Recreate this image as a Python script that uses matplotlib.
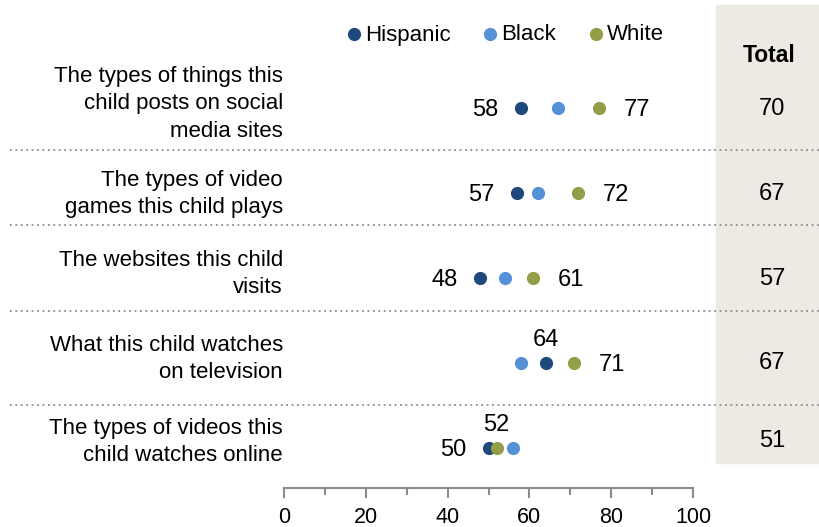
import matplotlib
matplotlib.use("Agg")
import matplotlib.pyplot as plt

categories = [
    "The types of things this\nchild posts on social\nmedia sites",
    "The types of video\ngames this child plays",
    "The websites this child\nvisits",
    "What this child watches\non television",
    "The types of videos this\nchild watches online",
]
hispanic = [58, 57, 48, 64, 50]
black = [67, 62, 54, 58, 56]
white = [77, 72, 61, 71, 52]
total = [70, 67, 57, 67, 51]
xticks = [0, 20, 40, 60, 80, 100]

C_HISP = "#1f497d"
C_BLACK = "#5591d6"
C_WHITE = "#949d48"
BEIGE = "#edeae3"
TXT = "#000000"

plt.rcParams['font.family'] = ['Liberation Sans', 'DejaVu Sans']

W, H = 819, 527
fig = plt.figure(figsize=(W / 100, H / 100), dpi=100)

# axes: x 0 at px 284, 100 at px 693; top at px 0, bottom spine at px 488
x0, x1 = 284, 693
ytop, ybot = 0, 488
ax = fig.add_axes([x0 / W, 1 - ybot / H, (x1 - x0) / W, (ybot - ytop) / H])
ax.set_xlim(0, 100)
row_px = 85.0
ax.set_ylim((ybot - 108) / row_px, (ytop - 108) / row_px)
ax.patch.set_alpha(0)

for s in ["top", "right", "left"]:
    ax.spines[s].set_visible(False)
ax.spines["bottom"].set_color("#8c8c8c")
ax.spines["bottom"].set_linewidth(1.5)
ax.set_yticks([])
ax.set_xticks(xticks)
ax.set_xticklabels([str(t) for t in xticks], fontsize=15.5, color=TXT)
ax.set_xticks(range(10, 100, 20), minor=True)
ax.tick_params(axis="x", which="major", length=7, width=1.5, color="#8c8c8c", pad=7)
ax.tick_params(axis="x", which="minor", length=5, width=1.5, color="#8c8c8c")

rows = list(range(len(categories)))
ms = 9.5
ax.scatter(black, rows, s=ms ** 2, color=C_BLACK, zorder=3, clip_on=False, linewidths=0)
ax.scatter(hispanic, rows, s=ms ** 2, color=C_HISP, zorder=4, clip_on=False, linewidths=0)
ax.scatter(white, rows, s=ms ** 2, color=C_WHITE, zorder=5, clip_on=False, linewidths=0)

fs_num = 17
for i, (h, b, w) in enumerate(zip(hispanic, black, white)):
    lo = min(h, b, w)
    hi = max(h, b, w)
    # Hispanic label
    if h == lo:
        ax.text(h - 5.5, i + 0.02, str(h), ha="right", va="center", fontsize=fs_num, color=TXT)
    else:
        ax.text(h, i - 0.27, str(h), ha="center", va="center", fontsize=fs_num, color=TXT)
    # White label
    if w == hi:
        ax.text(w + 6.0, i + 0.02, str(w), ha="left", va="center", fontsize=fs_num, color=TXT)
    else:
        ax.text(w, i - 0.27, str(w), ha="center", va="center", fontsize=fs_num, color=TXT)

# Total column background
tx0, tx1 = 716, 819
bg = plt.Rectangle((tx0 / W, 1 - 463 / H), (tx1 - tx0) / W, (463 - 5) / H,
                   transform=fig.transFigure, color=BEIGE, zorder=0)
fig.patches.append(bg)
fig.text(769 / W, 1 - 56 / H, "Total", ha="center", va="center", fontsize=16.5,
         fontweight="bold", color=TXT)
tot_px = [109, 194, 279, 363, 441]
for v, yp in zip(total, tot_px):
    fig.text(772 / W, 1 - yp / H, str(v), ha="center", va="center", fontsize=fs_num, color=TXT)

# Category labels
lab_px = [104, 194, 274, 359, 442]
for c, yp in zip(categories, lab_px):
    fig.text(283 / W, 1 - yp / H, c, ha="right", va="center", fontsize=16,
             color=TXT, linespacing=1.42)

# separators
for yp in [150, 225, 311, 405]:
    fig.add_artist(plt.Line2D([10 / W, 1.0], [1 - yp / H, 1 - yp / H],
                              transform=fig.transFigure, color="#8c8c8c",
                              linestyle=(0, (1, 2)), linewidth=1.3))

# Legend
leg = [("Hispanic", C_HISP, 354), ("Black", C_BLACK, 490), ("White", C_WHITE, 596)]
for name, col, xp in leg:
    fig.add_artist(plt.Line2D([xp / W], [1 - 34 / H], marker="o", markersize=9.5,
                              color=col, linestyle="none", markeredgewidth=0,
                              transform=fig.transFigure))
    fig.text((xp + 11) / W, 1 - 35 / H, name, ha="left", va="center", fontsize=16, color=TXT)

fig.savefig("out.png", dpi=100)
